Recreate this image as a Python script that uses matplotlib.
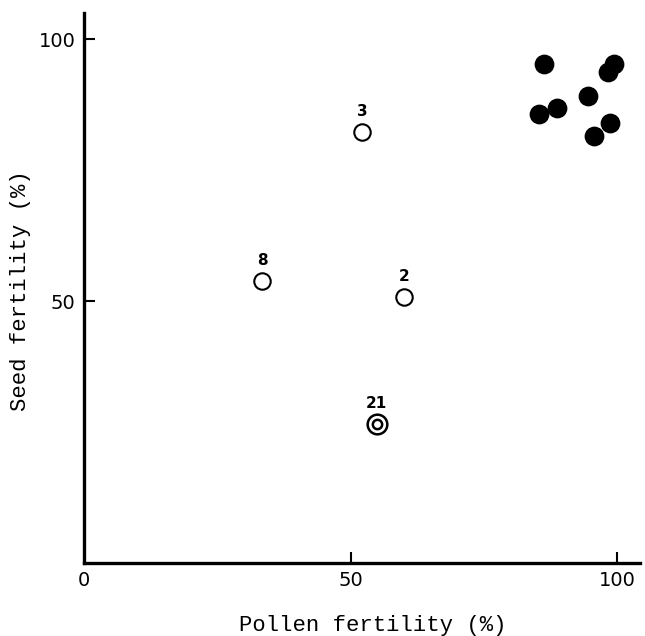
import matplotlib
matplotlib.use("Agg")
import matplotlib.pyplot as plt

# fertile plants (filled)
filled_x = [86.3, 99.5, 98.3, 94.5, 88.7, 85.4, 98.6, 95.6]
filled_y = [95.3, 95.3, 93.7, 89.1, 86.8, 85.6, 83.9, 81.4]

# numbered plants (open)
open_x = [52.2, 33.4, 60.1]
open_y = [82.3, 53.8, 50.8]
open_labels = ["3", "8", "2"]

# double circle
double_x = [54.9]
double_y = [26.5]
double_labels = ["21"]

x_ticks = [0, 50, 100]
x_ticklabels = ["0", "50", "100"]
y_ticks = [50, 100]
y_ticklabels = ["50", "100"]

fig = plt.figure(figsize=(6.45, 6.36), dpi=100)
ax = fig.add_axes([0.1302, 0.1148, 0.862, 0.865])

ax.scatter(filled_x, filled_y, s=175, c="black", edgecolors="black", zorder=3)
ax.scatter(open_x, open_y, s=140, facecolors="white", edgecolors="black",
           linewidths=1.5, zorder=3)
ax.scatter(double_x, double_y, s=200, facecolors="white", edgecolors="black",
           linewidths=1.8, zorder=3)
ax.scatter(double_x, double_y, s=45, facecolors="white", edgecolors="black",
           linewidths=1.8, zorder=4)

for x, y, lab in zip(open_x + double_x, open_y + double_y,
                     open_labels + double_labels):
    ax.annotate(lab, (x, y), xytext=(0, 9.5), textcoords="offset points",
                ha="center", va="bottom", fontsize=11, fontweight="bold")

ax.set_xlim(0, 104.3)
ax.set_ylim(0, 105)

for side in ["top", "right"]:
    ax.spines[side].set_visible(False)
for side in ["left", "bottom"]:
    ax.spines[side].set_linewidth(2.4)

ax.set_xticks(x_ticks)
ax.set_xticklabels(x_ticklabels, fontsize=14)
ax.set_yticks(y_ticks)
ax.set_yticklabels(y_ticklabels, fontsize=14)
ax.tick_params(direction="in", length=8, width=1.5, pad=6)
ax.xaxis.get_major_ticks()[0].tick1line.set_visible(False)

ax.set_xlabel("Pollen fertility (%)", family="Liberation Mono", fontsize=16,
              va="center")
ax.set_ylabel("Seed fertility (%)", family="Liberation Mono", fontsize=16,
              va="center")
ax.xaxis.set_label_coords(0.52, -0.113)
ax.yaxis.set_label_coords(-0.115, 0.495)

fig.savefig("out.png", dpi=100, facecolor="white")
